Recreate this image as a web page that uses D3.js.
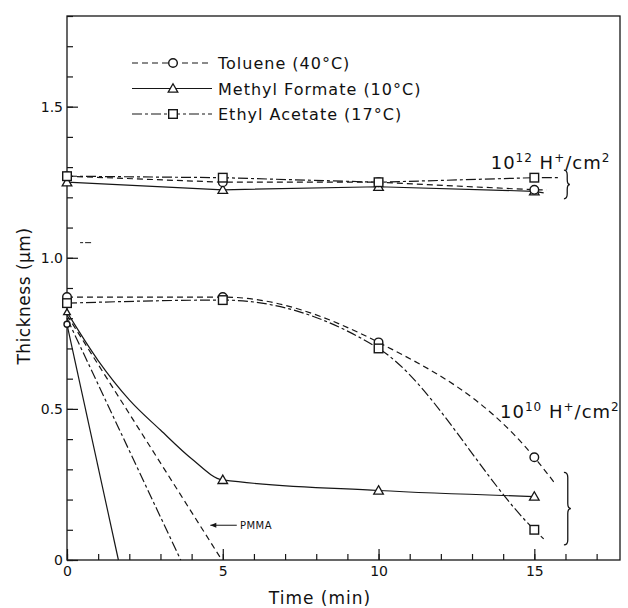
<!DOCTYPE html>
<html>
<head>
<meta charset="utf-8">
<script src="https://cdn.jsdelivr.net/npm/d3@7"></script>
<style>
  html, body { margin: 0; padding: 0; background: #fff; }
  svg { display: block; }
  text { font-family: "DejaVu Sans", "Liberation Sans", sans-serif; fill: #111; }
</style>
</head>
<body>
<svg id="chart" width="628" height="608"></svg>
<script>
// Thickness of resist vs development time
const TIMES = [0, 5, 10, 15];

// ── 10^12 H+/cm² (nearly flat) ─────────────────────────
const TOLUENE_12 = [1.27, 1.25, 1.25, 1.225];
const METHYL_12  = [1.25, 1.225, 1.235, 1.22];
const ETHYL_12   = [1.27, 1.265, 1.25, 1.265];
const TOLUENE_12_END = [15.4, 1.225];
const METHYL_12_END  = [15.3, 1.215];
const ETHYL_12_END   = [15.8, 1.265];

// ── 10^10 H+/cm² ───────────────────────────────────────
const TOLUENE_10 = [0.87, 0.87, 0.72, 0.34];
const ETHYL_10   = [0.85, 0.86, 0.70, 0.10];
const TOLUENE_10_END = [15.65, 0.255];
const ETHYL_10_END   = [15.3, 0.07];
const METHYL_10_TIMES = [5, 10, 15];
const METHYL_10      = [0.265, 0.23, 0.21];
// early part of the methyl formate curve (no markers)
const METHYL_10_LEAD = [[0, 0.82], [1, 0.66], [2, 0.53], [3, 0.43], [4, 0.335]];

// ── PMMA reference lines: start thickness, time at zero thickness ──
const PMMA_START = [0.78, 0.80, 0.81];
const PMMA_ZERO  = [1.65, 3.65, 4.97];
const PMMA_STYLE = ['solid', 'dashdot', 'dashed'];

const LEGEND = [
    { label: 'Toluene (40°C)',        style: 'dashed',  marker: 'circle' },
    { label: 'Methyl Formate (10°C)', style: 'solid',   marker: 'triangle' },
    { label: 'Ethyl Acetate (17°C)',  style: 'dashdot', marker: 'square' },
];

const Y_MAJOR = [0, 0.5, 1.0, 1.5];
const X_MAJOR = [0, 5, 10, 15];

(function() {
    const DASH = { solid: null, dashed: '6,4', dashdot: '10,3,3,3' };
    const INK = '#161616';
    const TICK_FONT = '"Liberation Sans", Arial, sans-serif';

    const svg = d3.select('#chart');
    const W = 628, H = 608;
    const m = { left: 67, right: 8, top: 16, bottom: 48 };

    const x = d3.scaleLinear().domain([0, 17.75]).range([m.left, W - m.right]);
    const y = d3.scaleLinear().domain([0, 1.8]).range([H - m.bottom, m.top]);

    svg.append('rect').attr('width', W).attr('height', H).attr('fill', '#fff');

    // Frame
    svg.append('rect')
        .attr('x', x(0)).attr('y', y(1.8))
        .attr('width', x(17.75) - x(0)).attr('height', y(0) - y(1.8))
        .attr('fill', 'none').attr('stroke', INK).attr('stroke-width', 1.3);

    // ── Axes (ticks point inward) ──
    const yMajor = svg.append('g').attr('transform', `translate(${x(0)},0)`)
        .call(d3.axisLeft(y).tickValues(Y_MAJOR).tickSize(-11).tickPadding(4)
            .tickFormat(d => d === 0 ? '0' : d3.format('.1f')(d)));
    const yMinor = svg.append('g').attr('transform', `translate(${x(0)},0)`)
        .call(d3.axisLeft(y).tickValues(d3.range(0, 1.81, 0.1)).tickSize(-6).tickFormat(''));
    const xMajor = svg.append('g').attr('transform', `translate(0,${y(0)})`)
        .call(d3.axisBottom(x).tickValues(X_MAJOR).tickSize(-11).tickPadding(6));
    const xMinor = svg.append('g').attr('transform', `translate(0,${y(0)})`)
        .call(d3.axisBottom(x).tickValues(d3.range(0, 17.5, 1)).tickSize(-6).tickFormat(''));

    [yMajor, yMinor, xMajor, xMinor].forEach(function(g) {
        g.select('.domain').remove();
        g.selectAll('line').attr('stroke', INK).attr('stroke-width', 1.2);
        g.selectAll('text').attr('font-size', '14px').attr('fill', INK)
            .attr('font-family', TICK_FONT);
    });

    // Axis titles
    svg.append('text')
        .attr('x', 320).attr('y', 604)
        .attr('text-anchor', 'middle').attr('font-size', '17px')
        .attr('letter-spacing', '1px')
        .text('Time (min)');
    svg.append('text')
        .attr('transform', 'translate(30,296) rotate(-90)')
        .attr('text-anchor', 'middle').attr('font-size', '17px')
        .attr('letter-spacing', '0.5px')
        .text('Thickness (μm)');

    // stray mark beside 1.0
    svg.append('line')
        .attr('x1', x(0.42)).attr('x2', x(0.82))
        .attr('y1', y(1.05)).attr('y2', y(1.05))
        .attr('stroke', INK).attr('stroke-width', 1).attr('stroke-dasharray', '3,2,6');

    // ── helpers ──
    function drawLine(pts, style, curve) {
        svg.append('path')
            .datum(pts)
            .attr('d', d3.line().x(d => x(d[0])).y(d => y(d[1])).curve(curve || d3.curveLinear))
            .attr('fill', 'none')
            .attr('stroke', INK)
            .attr('stroke-width', 1.2)
            .attr('stroke-dasharray', DASH[style]);
    }

    function drawMarker(cx, cy, kind, size) {
        const s = size || 1;
        if (kind === 'circle') {
            svg.append('circle').attr('cx', cx).attr('cy', cy).attr('r', 4.3 * s)
                .attr('fill', '#fff').attr('stroke', INK).attr('stroke-width', 1.4);
        } else if (kind === 'square') {
            const h = 4.3 * s;
            svg.append('rect').attr('x', cx - h).attr('y', cy - h)
                .attr('width', 2 * h).attr('height', 2 * h)
                .attr('fill', '#fff').attr('stroke', INK).attr('stroke-width', 1.4);
        } else {
            const h = 4.8 * s;
            svg.append('path')
                .attr('d', `M${cx},${cy - h}L${cx + h},${cy + h * 0.75}L${cx - h},${cy + h * 0.75}Z`)
                .attr('fill', '#fff').attr('stroke', INK).attr('stroke-width', 1.3);
        }
    }

    function zip(ts, vs) { return ts.map((t, i) => [t, vs[i]]); }

    // ── PMMA lines ──
    PMMA_START.forEach(function(v, i) {
        drawLine([[0, v], [PMMA_ZERO[i], 0]], PMMA_STYLE[i]);
    });

    // ── 10^10 group ──
    const tol10 = zip(TIMES, TOLUENE_10);
    const eth10 = zip(TIMES, ETHYL_10);
    const met10 = zip(METHYL_10_TIMES, METHYL_10);
    drawLine(tol10.concat([TOLUENE_10_END]), 'dashed', d3.curveMonotoneX);
    drawLine(eth10.concat([ETHYL_10_END]), 'dashdot', d3.curveMonotoneX);
    drawLine(METHYL_10_LEAD.concat(met10), 'solid', d3.curveMonotoneX);

    // ── 10^12 group ──
    const tol12 = zip(TIMES, TOLUENE_12);
    const met12 = zip(TIMES, METHYL_12);
    const eth12 = zip(TIMES, ETHYL_12);
    drawLine(tol12.concat([TOLUENE_12_END]), 'dashed');
    drawLine(met12.concat([METHYL_12_END]), 'solid');
    drawLine(eth12.concat([ETHYL_12_END]), 'dashdot');

    // markers
    tol10.forEach(d => drawMarker(x(d[0]), y(d[1]), 'circle'));
    eth10.forEach(d => drawMarker(x(d[0]), y(d[1]), 'square'));
    met10.forEach(d => drawMarker(x(d[0]), y(d[1]), 'triangle'));
    drawMarker(x(0), y(METHYL_10_LEAD[0][1]), 'triangle', 0.7);
    drawMarker(x(0), y(PMMA_START[0]), 'circle', 0.7);
    met12.forEach(d => drawMarker(x(d[0]), y(d[1]), 'triangle'));
    tol12.forEach(d => drawMarker(x(d[0]), y(d[1]), 'circle'));
    eth12.forEach(d => drawMarker(x(d[0]), y(d[1]), 'square'));

    // ── braces and dose labels ──
    function brace(bx, y1, y2, w) {
        const mid = (y1 + y2) / 2, k = bx + w * 0.55, r = 5;
        svg.append('path')
            .attr('d', `M${bx},${y1} Q${k},${y1} ${k},${y1 + r} L${k},${mid - r}` +
                ` Q${k},${mid} ${bx + w},${mid} Q${k},${mid} ${k},${mid + r}` +
                ` L${k},${y2 - r} Q${k},${y2} ${bx},${y2}`)
            .attr('fill', 'none').attr('stroke', INK).attr('stroke-width', 1.3);
    }
    brace(x(15.95), y(1.29), y(1.195), 6);
    brace(x(15.95), y(0.29), y(0.05), 7);

    function doseLabel(tx, ty, exp) {
        const t = svg.append('text').attr('x', tx).attr('y', ty)
            .attr('font-size', '18px').attr('letter-spacing', '1px');
        t.append('tspan').text('10');
        t.append('tspan').attr('font-size', '12px').attr('dy', -7).text(exp);
        t.append('tspan').attr('dy', 7).text(' H');
        t.append('tspan').attr('font-size', '12px').attr('dy', -7).text('+');
        t.append('tspan').attr('dy', 7).text('/cm');
        t.append('tspan').attr('font-size', '12px').attr('dy', -7).text('2');
    }
    doseLabel(x(13.6), y(1.285) - 3, '12');
    doseLabel(x(13.9), y(0.47), '10');

    // PMMA arrow label
    const ay = y(0.115);
    svg.append('line')
        .attr('x1', x(4.6)).attr('x2', x(5.45)).attr('y1', ay).attr('y2', ay)
        .attr('stroke', INK).attr('stroke-width', 1);
    svg.append('path')
        .attr('d', `M${x(4.6)},${ay} l6,-2.5 l0,5 Z`).attr('fill', INK);
    svg.append('text')
        .attr('x', x(5.55)).attr('y', ay + 4)
        .attr('font-size', '10px').attr('letter-spacing', '0.5px')
        .text('PMMA');

    // ── Legend ──
    LEGEND.forEach(function(d, i) {
        const ly = 63 + i * 25.5;
        svg.append('line')
            .attr('x1', 132).attr('x2', 212).attr('y1', ly).attr('y2', ly)
            .attr('stroke', INK).attr('stroke-width', 1.2)
            .attr('stroke-dasharray', DASH[d.style]);
        drawMarker(173, ly, d.marker);
        svg.append('text')
            .attr('x', 218).attr('y', ly + 6)
            .attr('font-size', '16px').attr('letter-spacing', '1px')
            .text(d.label);
    });
})();
</script>
</body>
</html>
